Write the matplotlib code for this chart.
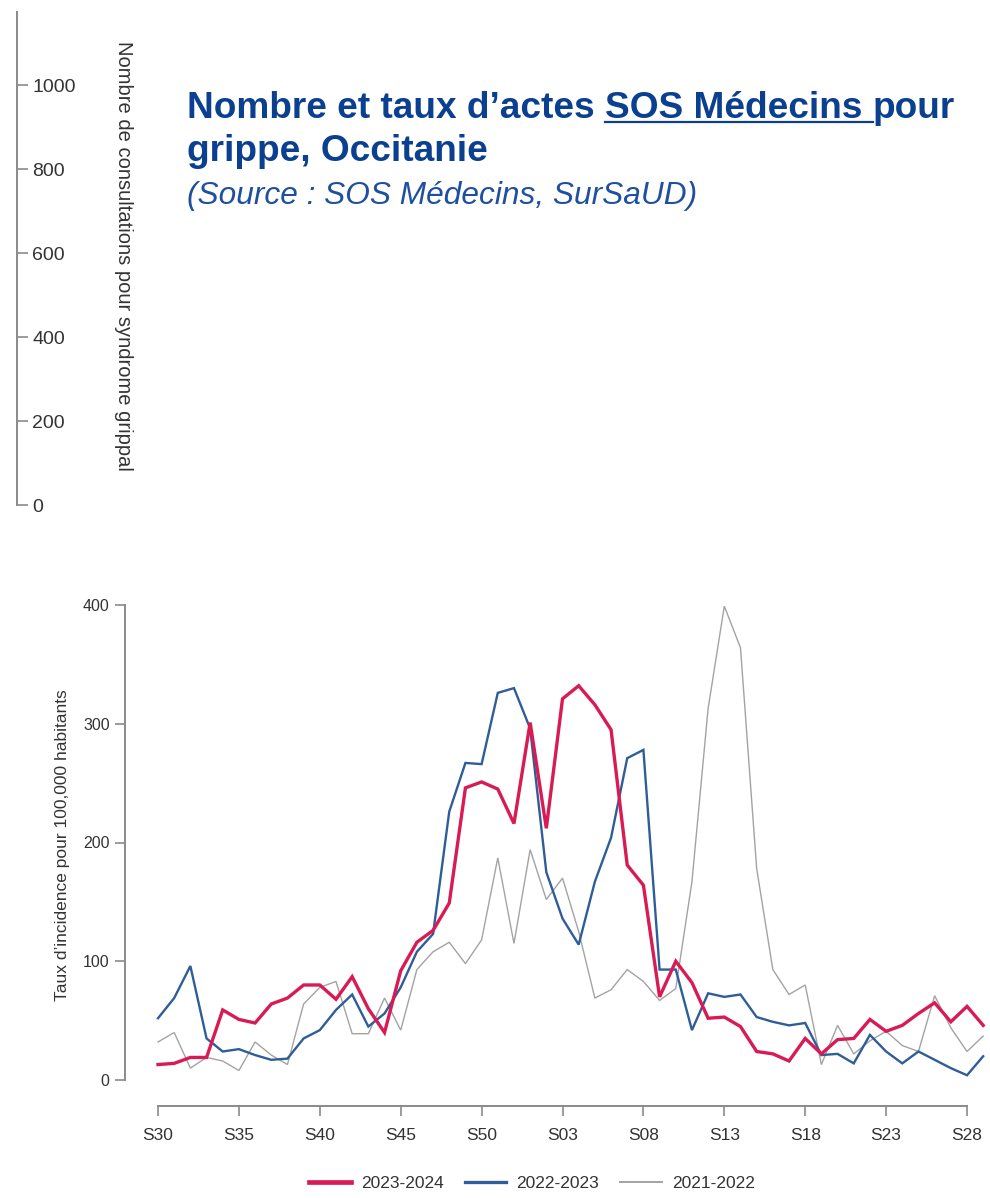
import numpy as np
import matplotlib
matplotlib.use("Agg")
import matplotlib.pyplot as plt
from matplotlib import font_manager as fm
from matplotlib.lines import Line2D

# week labels S30 .. S52, S01 .. S29
weeks = list(range(30, 53)) + list(range(1, 30))
week_labels = ["S%02d" % w for w in weeks]

# taux d'incidence pour 100 000 habitants
taux_2324 = [13, 14, 19, 19, 59, 51, 48, 64, 69, 80, 80, 68, 87, 60, 40, 92,
             116, 126, 149, 246, 251, 245, 216, 301, 212, 321, 332, 316, 295, 181, 164, 70,
             100, 82, 52, 53, 45, 24, 22, 16, 35, 22, 34, 35, 51, 41, 46, 56,
             65, 49, 62, 46]
taux_2223 = [52, 69, 96, 35, 24, 26, 21, 17, 18, 35, 42, 59, 72, 45, 56, 78,
             108, 123, 226, 267, 266, 326, 330, 296, 175, 136, 114, 167, 204, 271, 278, 93,
             93, 42, 73, 70, 72, 53, 49, 46, 48, 21, 22, 14, 38, 24, 14, 24,
             17, 10, 4, 20]
taux_2122 = [32, 40, 10, 19, 16, 8, 32, 21, 13, 64, 78, 83, 39, 39, 69, 42,
             93, 108, 116, 98, 118, 187, 115, 194, 152, 170, 125, 69, 76, 93, 83, 67,
             77, 167, 313, 399, 364, 178, 93, 72, 80, 13, 46, 22, 33, 41, 29, 24,
             71, 44, 24, 37]

seasons = ["2023-2024", "2022-2023", "2021-2022"]
colors = ["#d81b54", "#2f5d98", "#a3a3a3"]
widths = [2.4, 1.7, 1.0]

# left axis of the (cropped) count chart
count_ticks = [0, 200, 400, 600, 800, 1000]

names = {f.name for f in fm.fontManager.ttflist}
narrow = "Liberation Sans Narrow" if "Liberation Sans Narrow" in names else "Liberation Sans"
plt.rcParams["font.family"] = ["Liberation Sans", "DejaVu Sans"]

W, H = 990, 1198
fig = plt.figure(figsize=(W / 100, H / 100), dpi=100)


def fx(px):
    return px / W


def fy(py):
    return 1 - py / H


grey_txt = "#333333"
axis_col = "#8a8a8a"

# ---- top: lone count axis ----
top0, top1 = 12, 505
axc = fig.add_axes([-0.2, fy(top1), 0.2 + fx(17), (top1 - top0) / H])
axc.set_ylim(0, (top1 - top0) / 0.42)
axc.set_xticks([])
for s in ["left", "top", "bottom"]:
    axc.spines[s].set_visible(False)
axc.spines["right"].set_color(axis_col)
axc.spines["right"].set_linewidth(1.4)
axc.yaxis.tick_right()
axc.set_yticks(count_ticks)
axc.tick_params(axis="y", direction="out", length=8, width=1.2, color=axis_col,
                labelsize=14, labelcolor=grey_txt, pad=3)
axc.patch.set_visible(False)
fig.text(fx(123), fy(256), "Nombre de consultations pour syndrome grippal",
         rotation=270, ha="center", va="center", fontsize=14.5, color=grey_txt)

# ---- title ----
blue_title = "#0b3f8f"
renderer = fig.canvas.get_renderer()
x0 = fx(187)
t1 = fig.text(x0, fy(118), "Nombre et taux d\u2019actes ", fontsize=25, fontweight="bold",
              color=blue_title, family=narrow, va="baseline")
bb = t1.get_window_extent(renderer)
# scale font so the first line spans the same width as the reference
t2 = fig.text(0, fy(118), "SOS Médecins ", fontsize=25, fontweight="bold",
              color=blue_title, family=narrow, va="baseline")
t3 = fig.text(0, fy(118), "pour", fontsize=25, fontweight="bold",
              color=blue_title, family=narrow, va="baseline")
total = sum(t.get_window_extent(renderer).width for t in (t1, t2, t3))
fs = 25 * 768 / total
for t in (t1, t2, t3):
    t.set_fontsize(fs)
w1 = t1.get_window_extent(renderer).width
w2 = t2.get_window_extent(renderer).width
t2.set_x(x0 + w1 / W)
t3.set_x(x0 + (w1 + w2) / W)
fig.add_artist(Line2D([x0 + w1 / W, x0 + (w1 + w2) / W], [fy(122), fy(122)],
                      color=blue_title, lw=1.6, transform=fig.transFigure))
fig.text(x0, fy(161), "grippe, Occitanie", fontsize=fs, fontweight="bold",
         color=blue_title, family=narrow, va="baseline")
st = fig.text(x0, fy(204), "(Source : SOS Médecins, SurSaUD)", fontsize=20, style="italic",
              color="#1f4f9f", family=narrow, va="baseline")
sw = st.get_window_extent(renderer).width
st.set_fontsize(20 * 508 / sw)

# ---- bottom: incidence chart ----
px_week = 16.18
left_px, bottom_px, top_px = 125, 1099, 586
ax = fig.add_axes([fx(left_px), fy(bottom_px), 1 - fx(left_px), (bottom_px - top_px) / H])
ax.set_xlim(-2.04, -2.04 + (W - left_px) / px_week)
ax.set_ylim(-16, 416)

x = np.arange(len(weeks))
series = [taux_2324, taux_2223, taux_2122]
for vals, lab, col, lw in reversed(list(zip(series, seasons, colors, widths))):
    ax.plot(x, vals, color=col, lw=lw, label=lab, solid_joinstyle="miter")

for s in ["top", "right"]:
    ax.spines[s].set_visible(False)
for s in ["left", "bottom"]:
    ax.spines[s].set_color(axis_col)
    ax.spines[s].set_linewidth(1.4)
ax.spines["left"].set_bounds(0, 400)
ax.spines["bottom"].set_bounds(0, 50)
ax.spines["bottom"].set_position(("outward", 5))
ax.set_yticks([0, 100, 200, 300, 400])
ax.set_xticks(x[::5])
ax.set_xticklabels(week_labels[::5])
ax.tick_params(axis="both", direction="out", length=7, width=1.2, color=axis_col,
               labelcolor=grey_txt)
ax.tick_params(axis="y", labelsize=11.5, pad=4)
ax.tick_params(axis="x", labelsize=12.5, pad=9)
ax.patch.set_visible(False)
fig.text(fx(63), fy(845), "Taux d\u2019incidence pour 100,000 habitants", rotation=90,
         ha="center", va="center", fontsize=12.5, color=grey_txt)

handles = [Line2D([], [], color=c, lw=l * 1.4) for c, l in zip(colors, widths)]
fig.legend(handles, seasons, loc="center", bbox_to_anchor=(fx(532), fy(1183)), ncol=3,
           frameon=False, fontsize=12.5, handlelength=2.4, columnspacing=1.2,
           handletextpad=0.6, labelcolor=grey_txt)

fig.savefig("out.png", dpi=100)
